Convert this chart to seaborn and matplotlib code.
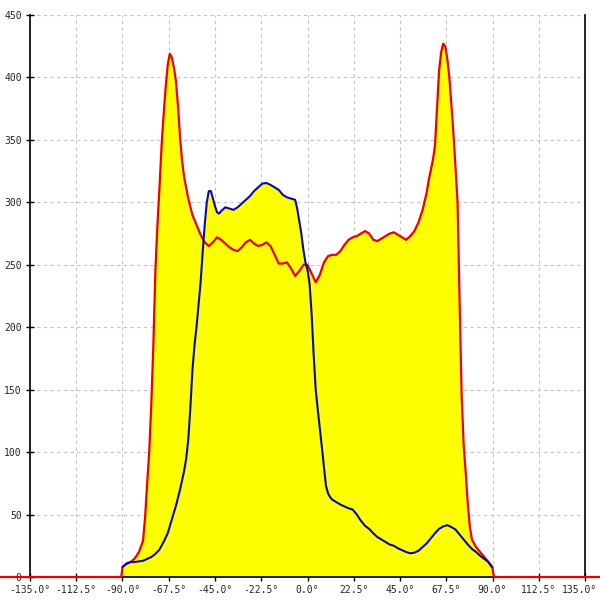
import numpy as np
import pandas as pd
import matplotlib
matplotlib.use("Agg")
import matplotlib.pyplot as plt
import matplotlib.transforms as mtransforms
import seaborn as sns

# red profile (with flat zero tails running past the axes)
red_angle = [
    -150, -90.6, -90, -88, -86, -84, -82, -80, -79, -78, -77, -76, -75, -74,
    -73, -72, -71, -70, -69, -68, -67, -66, -65, -64, -63, -62, -61, -60,
    -58, -56, -54, -52, -50, -48, -46, -44, -42, -40, -38, -36, -34, -32,
    -30, -28, -26, -24, -22, -20, -18, -16, -14, -12, -10, -8, -6, -4, -2,
    0, 2, 4, 6, 8, 10, 12, 14, 16, 18, 20, 22, 24, 26, 28, 30, 32, 34, 36,
    38, 40, 42, 44, 46, 48, 50, 52, 54, 56, 58, 59, 60, 61, 62, 63, 64, 65,
    66, 67, 68, 69, 70, 71, 72, 73, 74, 75, 76, 77, 78, 79, 80, 82, 84, 86,
    88, 90, 90.7, 150,
]
red_count = [
    0, 0, 8, 10.5, 12, 15, 20, 29, 48, 75, 100, 138, 185, 245,
    282, 312, 345, 370, 392, 410, 419, 416, 408, 397, 377, 352, 333, 320,
    303, 290, 282, 274, 268, 265, 268, 272, 270, 267, 264, 262, 261, 264,
    268, 270, 267, 265, 266, 268, 265, 258, 251, 251, 252, 247, 241, 245, 250,
    250, 243, 236, 242, 252, 257, 258, 258, 261, 266, 270, 272, 273, 275, 277, 275, 270, 269, 271,
    273, 275, 276, 274, 272, 270, 273, 277, 284, 294, 308, 318, 326, 334, 345, 375, 405, 420,
    427, 425, 415, 400, 378, 355, 328, 300, 220, 145, 105, 83, 58, 40, 30, 24, 20, 16,
    12, 7, 0, 0,
]

# blue profile
blue_angle = [
    -90, -88, -86, -84, -82, -80, -78, -76, -74, -72, -70, -68, -66, -64,
    -62, -60, -59, -58, -57, -56, -55, -54, -53, -52, -51, -50, -49, -48,
    -47, -46, -45, -44, -43, -42, -40, -38, -36, -34, -32, -30, -28, -26,
    -24, -22, -20, -18, -16, -14, -12, -10, -8, -6, -5, -4, -3, -2, -1, 0,
    1, 2, 3, 4, 5, 6, 7, 8, 9, 10, 11, 12, 14, 16, 18, 20, 22, 24, 26, 28,
    30, 32, 34, 36, 38, 40, 42, 44, 46, 48, 50, 52, 54, 56, 58, 60, 62, 64,
    66, 68, 70, 72, 74, 76, 78, 80, 82, 84, 86, 88, 90,
]
blue_count = [
    8, 11, 12, 12, 12.5, 13, 14.5, 16, 18.5, 22, 28, 35, 46, 57,
    70, 85, 95, 110, 135, 165, 185, 200, 218, 236, 260, 282, 300, 309,
    309, 303, 297, 292, 291, 293, 296, 295, 294, 296, 299, 302, 305, 309,
    312, 315, 315.5, 314, 312, 310, 306, 304, 303, 302, 295, 285, 275, 262, 252, 246,
    235, 211, 178, 150, 134, 119, 104, 88, 73, 67, 64, 62, 60, 58, 56.5, 55, 54, 50, 45, 41,
    38.5, 35, 32, 30, 28, 26, 25, 23, 21.5, 20, 19, 19.5, 21, 24, 27, 31, 35, 38.5,
    40.5, 41.5, 40, 38, 34, 30, 26, 22.5, 20, 17, 14.5, 12, 8,
]

x_ticks = [-135, -112.5, -90, -67.5, -45, -22.5, 0, 22.5, 45, 67.5, 90, 112.5, 135]
x_labels = ["-135.0°", "-112.5°", "-90.0°", "-67.5°", "-45.0°", "-22.5°", "0.0°",
            "22.5°", "45.0°", "67.5°", "90.0°", "112.5°", "135.0°"]
y_ticks = [0, 50, 100, 150, 200, 250, 300, 350, 400, 450]

red_df = pd.DataFrame({"angle": red_angle, "count": red_count})
blue_df = pd.DataFrame({"angle": blue_angle, "count": blue_count})

sns.set_style("white")
plt.rcParams["font.family"] = ["DejaVu Sans Mono"]

fig = plt.figure(figsize=(6, 6), dpi=100)
ax = fig.add_axes([0.05, 0.0383, 0.925, 0.9367])

# yellow area under both curves
ax.fill_between(red_df["angle"], 0, red_df["count"], color="#ffff00", lw=0, zorder=1)
ax.fill_between(blue_df["angle"], 0, blue_df["count"], color="#ffff00", lw=0, zorder=1)

sns.lineplot(
    data=red_df,
    x="angle",
    y="count",
    color="#ee0000",
    linewidth=1.6,
    ax=ax,
    zorder=4,
    clip_on=False
)

sns.lineplot(
    data=blue_df,
    x="angle",
    y="count",
    color="#0808b8",
    linewidth=1.5,
    ax=ax,
    zorder=5
)

ax.set_xlim(-135, 135)
ax.set_ylim(0, 450)
ax.set_xticks(x_ticks)
ax.set_xticklabels(x_labels)
ax.set_yticks(y_ticks)
ax.set_yticklabels([str(v) for v in y_ticks])
ax.set_xlabel("")
ax.set_ylabel("")

ax.grid(True, color="#c4c4c4", linestyle=(0, (3, 3)), linewidth=0.8)
ax.set_axisbelow(True)

for side in ["left", "right", "bottom"]:
    ax.spines[side].set_visible(True)
    ax.spines[side].set_color("black")
    ax.spines[side].set_linewidth(1.2)
ax.spines["top"].set_visible(False)

ax.tick_params(
    axis="both",
    direction="inout",
    length=6,
    width=1,
    color="black",
    labelsize=7,
    pad=3,
    bottom=True,
    left=True
)

# keep the last x label inside the figure
last = ax.get_xticklabels()[-1]
last.set_transform(last.get_transform() + mtransforms.ScaledTranslation(-4 / 72, 0, fig.dpi_scale_trans))

plt.savefig("out.png", dpi=100)
plt.close()
